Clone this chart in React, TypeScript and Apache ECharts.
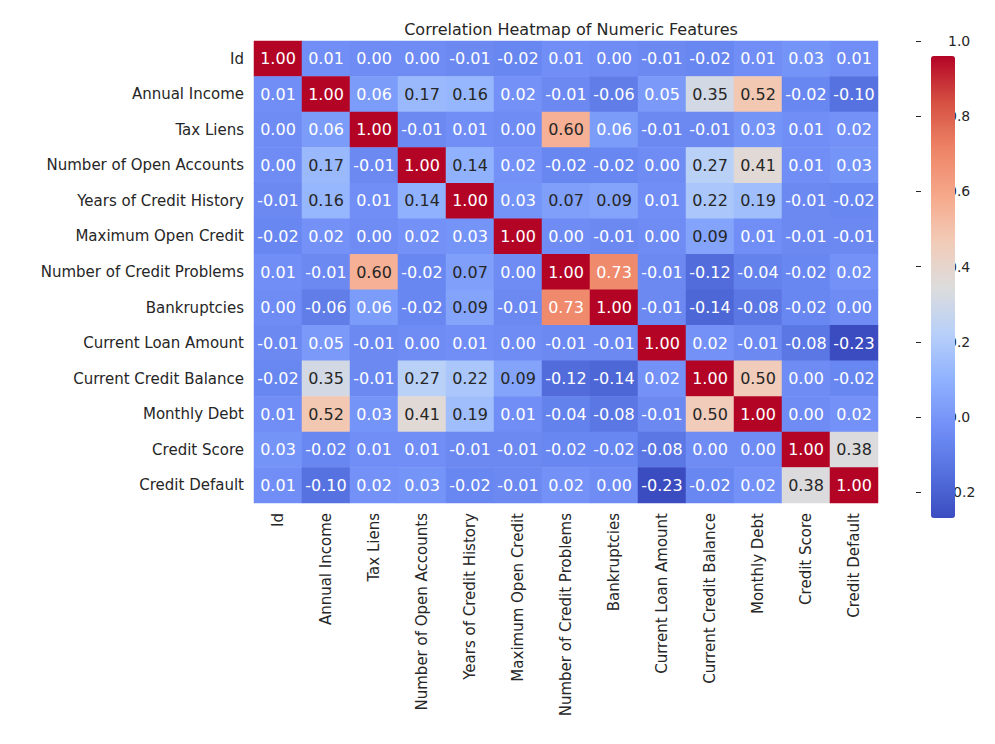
import React, { useEffect, useRef } from "react";
import * as echarts from "echarts";

const features = ["Id","Annual Income","Tax Liens","Number of Open Accounts","Years of Credit History","Maximum Open Credit","Number of Credit Problems","Bankruptcies","Current Loan Amount","Current Credit Balance","Monthly Debt","Credit Score","Credit Default"];
const matrix = [
  [1.00,0.01,0.00,0.00,-0.01,-0.02,0.01,0.00,-0.01,-0.02,0.01,0.03,0.01],
  [0.01,1.00,0.06,0.17,0.16,0.02,-0.01,-0.06,0.05,0.35,0.52,-0.02,-0.10],
  [0.00,0.06,1.00,-0.01,0.01,-0.00,0.60,0.06,-0.01,-0.01,0.03,0.01,0.02],
  [0.00,0.17,-0.01,1.00,0.14,0.02,-0.02,-0.02,0.00,0.27,0.41,0.01,0.03],
  [-0.01,0.16,0.01,0.14,1.00,0.03,0.07,0.09,0.01,0.22,0.19,-0.01,-0.02],
  [-0.02,0.02,-0.00,0.02,0.03,1.00,-0.00,-0.01,-0.00,0.09,0.01,-0.01,-0.01],
  [0.01,-0.01,0.60,-0.02,0.07,-0.00,1.00,0.73,-0.01,-0.12,-0.04,-0.02,0.02],
  [0.00,-0.06,0.06,-0.02,0.09,-0.01,0.73,1.00,-0.01,-0.14,-0.08,-0.02,0.00],
  [-0.01,0.05,-0.01,0.00,0.01,-0.00,-0.01,-0.01,1.00,0.02,-0.01,-0.08,-0.23],
  [-0.02,0.35,-0.01,0.27,0.22,0.09,-0.12,-0.14,0.02,1.00,0.50,-0.00,-0.02],
  [0.01,0.52,0.03,0.41,0.19,0.01,-0.04,-0.08,-0.01,0.50,1.00,-0.00,0.02],
  [0.03,-0.02,0.01,0.01,-0.01,-0.01,-0.02,-0.02,-0.08,-0.00,-0.00,1.00,0.38],
  [0.01,-0.10,0.02,0.03,-0.02,-0.01,0.02,0.00,-0.23,-0.02,0.02,0.38,1.00],
];
const colorbarTicks = [-0.2, 0, 0.2, 0.4, 0.6, 0.8, 1.0];
const coolwarm = ["#3b4cc0","#5571df","#7290f7","#90b2fe","#b8d0f9","#dddcdc","#f2cbb7","#f6a789","#ed8366","#d55042","#b40426"];

export default function App() {
  const ref = useRef<HTMLDivElement>(null);
  useEffect(() => {
    const chart = echarts.init(ref.current!, null, { renderer: "svg" });
    const data: any[] = [];
    matrix.forEach((row, i) => row.forEach((v, j) => {
      const dark = v >= 0.07 && v <= 0.65;
      data.push({ value: [j, i, v], label: { color: dark ? "#262626" : "#ffffff" } });
    }));
    const font = "DejaVu Sans";
    chart.setOption({
      animation: false,
      textStyle: { fontFamily: font },
      title: { text: "Correlation Heatmap of Numeric Features", left: 558, top: 8, textAlign: "center",
        textStyle: { fontSize: 16, fontWeight: "normal", color: "#262626", fontFamily: font } },
      grid: [
        { left: 246, top: 33, width: 624, height: 462 },
        { left: 908, top: 33, width: 24, height: 462 },
      ],
      xAxis: [
        { type: "category", data: features, gridIndex: 0, axisLine: { show: false }, axisTick: { show: false },
          axisLabel: { rotate: 90, fontSize: 15, color: "#262626", interval: 0, margin: 10 }, splitLine: { show: false } },
        { type: "value", gridIndex: 1, show: false, min: 0, max: 1 },
      ],
      yAxis: [
        { type: "category", data: features, inverse: true, gridIndex: 0, axisLine: { show: false }, axisTick: { show: false },
          axisLabel: { fontSize: 15, color: "#262626", interval: 0, margin: 10 }, splitLine: { show: false } },
        { type: "value", gridIndex: 1, position: "right", min: -0.2285, max: 1, splitLine: { show: false },
          axisLine: { show: false },
          axisTick: { show: true, customValues: colorbarTicks, length: 5, lineStyle: { color: "#262626" } },
          axisLabel: { customValues: colorbarTicks, fontSize: 14, color: "#262626", margin: 8,
            formatter: (v: number) => v.toFixed(1) } },
      ],
      visualMap: {
        type: "continuous", min: -0.2285, max: 1, dimension: 2, seriesIndex: 0,
        left: 908, top: 33, itemWidth: 24, itemHeight: 462, text: ["", ""], showLabel: false,
        calculable: false, inRange: { color: coolwarm }, textStyle: { color: "transparent" },
      },
      series: [
        { type: "heatmap", xAxisIndex: 0, yAxisIndex: 0, data,
          label: { show: true, fontSize: 16, fontFamily: font, formatter: (p: any) => p.value[2].toFixed(2) },
          itemStyle: { borderWidth: 0 } },
      ],
    });
    return () => chart.dispose();
  }, []);
  return <div ref={ref} style={{ width: 979, height: 728 }} />;
}
